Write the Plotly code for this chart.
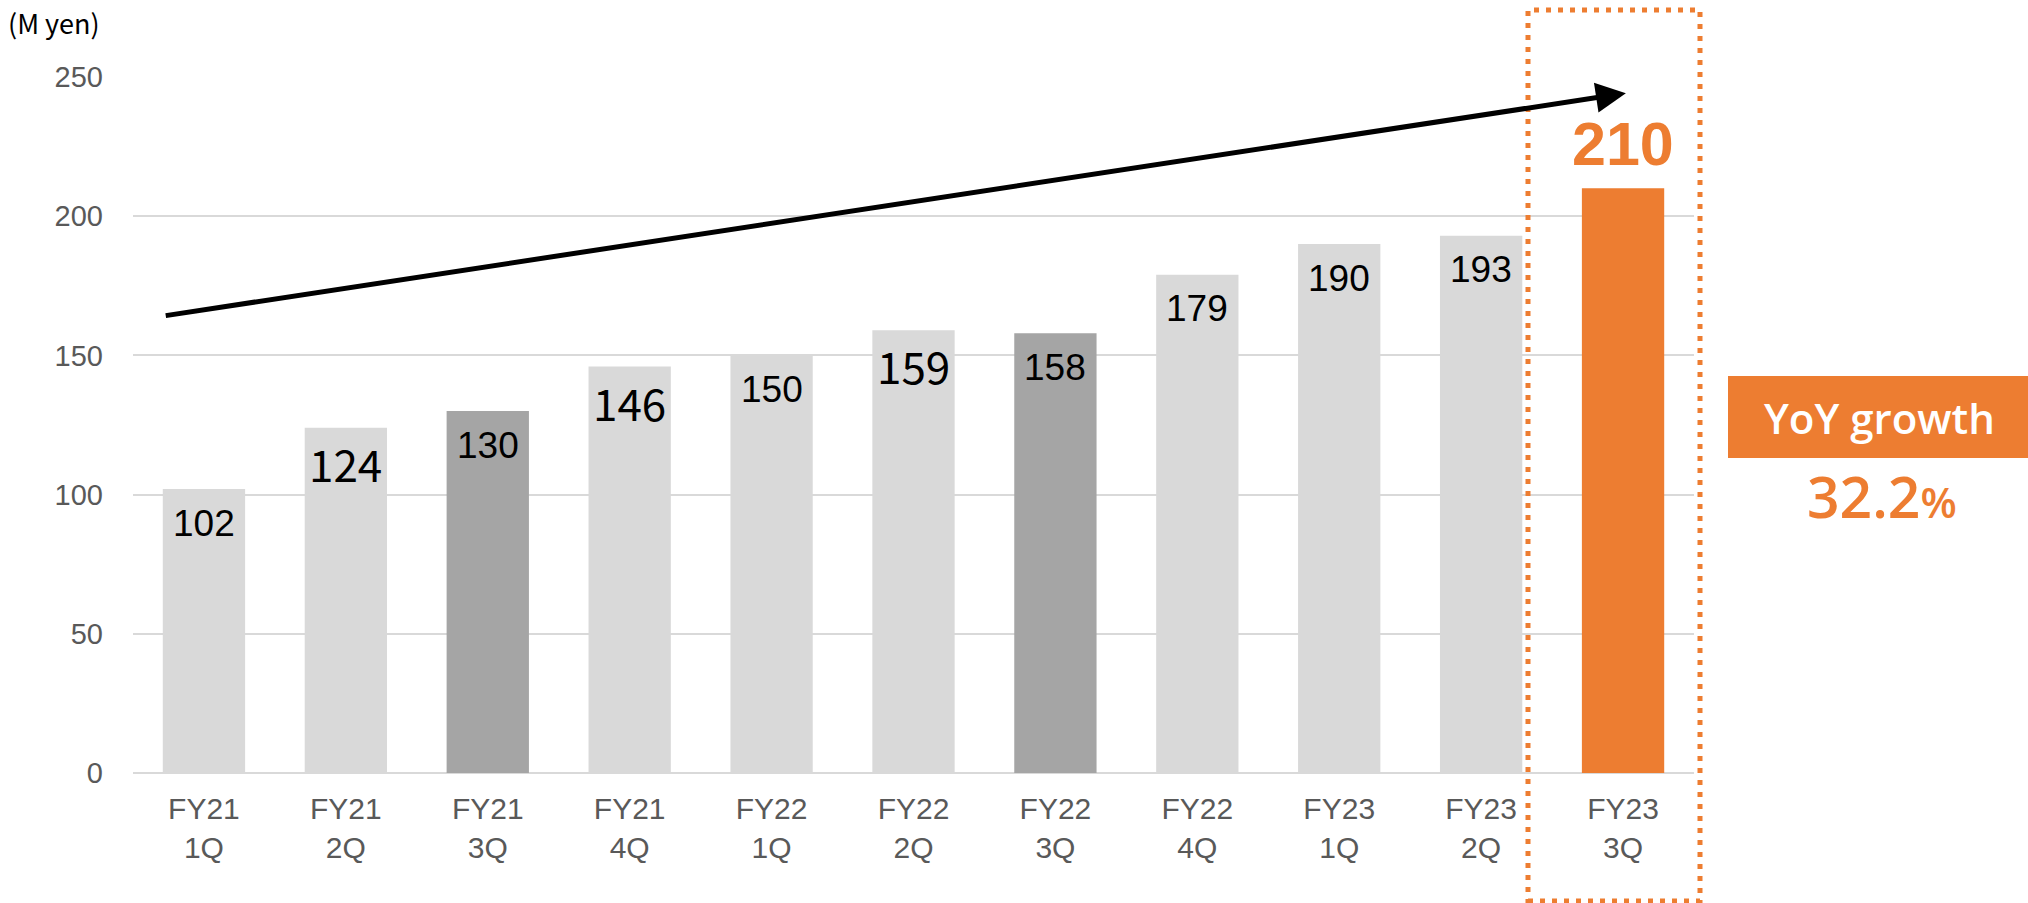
import plotly.graph_objects as go

# ---- data ----
categories = ["FY21<br>1Q", "FY21<br>2Q", "FY21<br>3Q", "FY21<br>4Q",
              "FY22<br>1Q", "FY22<br>2Q", "FY22<br>3Q", "FY22<br>4Q",
              "FY23<br>1Q", "FY23<br>2Q", "FY23<br>3Q"]
sales = [102, 124, 130, 146, 150, 159, 158, 179, 190, 193, 210]
y_ticks = [0, 50, 100, 150, 200, 250]
unit_label = "(M yen)"
yoy_title = "YoY growth"
yoy_value = "32.2"
trend_start = (-0.28, 164.2)   # (category index, value)
trend_end = (10.02, 244.2)

# ---- style ----
LIGHT = "#D9D9D9"
DARK = "#A5A5A5"
ORANGE = "#ED7D31"
GRAY_TXT = "#595959"
bar_colors = [LIGHT, LIGHT, DARK, LIGHT, LIGHT, LIGHT, DARK, LIGHT, LIGHT, LIGHT, ORANGE]
wide_font_idx = {1, 3, 5}

W, H = 2028, 903
L, R, T, B = 133, 334, 77, 130
PW, PH = W - L - R, H - T - B
n = len(categories)


def px_x(px):
    return (px - L) / PW


def px_y(py):
    return (H - B - py) / PH


fig = go.Figure()
fig.add_trace(go.Bar(
    x=list(range(n)), y=sales, marker=dict(color=bar_colors, line=dict(width=0)),
    width=0.58, hoverinfo="skip",
))

annotations = []
for i, v in enumerate(sales):
    if i == n - 1:
        annotations.append(dict(
            x=i, y=v, xref="x", yref="y", text=str(v), showarrow=False,
            yanchor="middle", yshift=44,
            font=dict(family="Liberation Sans, Arial", size=61, color=ORANGE, weight="bold")))
    elif i in wide_font_idx:
        annotations.append(dict(
            x=i, y=v, xref="x", yref="y", text=str(v), showarrow=False,
            yanchor="middle", yshift=-35,
            font=dict(family="Noto Sans CJK JP", size=44, color="#000000", weight="normal")))
    else:
        annotations.append(dict(
            x=i, y=v, xref="x", yref="y", text=str(v), showarrow=False,
            yanchor="middle", yshift=-34,
            font=dict(family="Liberation Sans, Arial", size=37, color="#000000", weight="normal")))

# trend arrow
annotations.append(dict(
    x=trend_end[0], y=trend_end[1], ax=trend_start[0], ay=trend_start[1],
    xref="x", yref="y", axref="x", ayref="y", text="",
    showarrow=True, arrowhead=2, arrowwidth=5, arrowsize=1.2, arrowcolor="#000000",
    standoff=0))

# unit label
annotations.append(dict(
    x=px_x(6), y=px_y(23), xref="paper", yref="paper", xanchor="left", yanchor="middle",
    text=unit_label, showarrow=False,
    font=dict(family="Noto Sans CJK JP", size=27, color="#000000", weight="normal")))

# YoY box text
annotations.append(dict(
    x=px_x(1879), y=px_y(417), xref="paper", yref="paper", xanchor="center", yanchor="middle",
    text=yoy_title, showarrow=False,
    font=dict(family="Open Sans", size=42, color="#FFFFFF", weight=600)))
annotations.append(dict(
    x=px_x(1882), y=px_y(496), xref="paper", yref="paper", xanchor="center", yanchor="middle",
    text=yoy_value + "<span style='font-size:42px'>%</span>", showarrow=False,
    font=dict(family="Open Sans", size=57, color=ORANGE, weight=600)))

shapes = [
    # YoY orange box
    dict(type="rect", xref="paper", yref="paper",
         x0=px_x(1728), x1=px_x(2030), y0=px_y(458), y1=px_y(376),
         fillcolor=ORANGE, line=dict(width=0), layer="below"),
    # dotted highlight frame
    dict(type="rect", xref="paper", yref="paper",
         x0=px_x(1528), x1=px_x(1700), y0=px_y(901), y1=px_y(10),
         fillcolor="rgba(0,0,0,0)", line=dict(color=ORANGE, width=5, dash="5px,7px"),
         layer="above"),
]

fig.update_layout(
    width=W, height=H,
    margin=dict(l=L, r=R, t=T, b=B, pad=0),
    paper_bgcolor="white", plot_bgcolor="white",
    showlegend=False, bargap=0.42,
    annotations=annotations, shapes=shapes,
    font=dict(family="Liberation Sans, Arial", color=GRAY_TXT),
)
fig.update_xaxes(
    tickmode="array", tickvals=list(range(n)), ticktext=categories,
    range=[-0.5, n - 0.5], showgrid=False, zeroline=False, showline=False,
    ticks="", tickfont=dict(size=30, color=GRAY_TXT), ticklabelstandoff=15,
)
fig.update_yaxes(
    range=[0, 250], tickvals=y_ticks, showgrid=True, gridcolor=LIGHT, gridwidth=2,
    zeroline=True, zerolinecolor=LIGHT, zerolinewidth=2, showline=False, ticks="",
    tickfont=dict(size=29, color=GRAY_TXT), ticklabelstandoff=29,
)

fig.write_html("out.html")
